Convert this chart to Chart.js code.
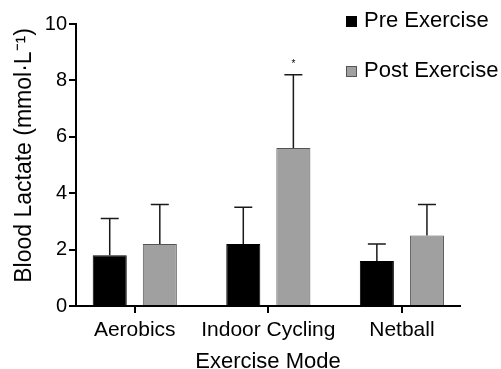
<!DOCTYPE html>
<html>
<head>
<meta charset="utf-8">
<script src="https://cdn.jsdelivr.net/npm/chart.js@4/dist/chart.umd.min.js"></script>
<style>
  html, body { margin: 0; padding: 0; background: #fff; }
  #wrap { width: 501px; height: 369px; }
</style>
</head>
<body>
<div id="wrap"><canvas id="lactateChart"></canvas></div>
<script>
// values
const categories = ['Aerobics', 'Indoor Cycling', 'Netball'];
const preMean = [1.8, 2.2, 1.6];
const preErr = [1.3, 1.3, 0.6];
const postMean = [2.2, 5.6, 2.5];
const postErr = [1.4, 2.6, 1.1];
const postSig = ['', '*', ''];
const yTicks = [0, 2, 4, 6, 8, 10];

const FONT = '"Liberation Sans", Arial, Helvetica, sans-serif';

// one-sided error bars + significance marks
const errorBars = {
    id: 'errorBars',
    afterDatasetsDraw(chart) {
        const ctx = chart.ctx;
        const yScale = chart.scales.y;
        chart.data.datasets.forEach((ds, di) => {
            const meta = chart.getDatasetMeta(di);
            meta.data.forEach((bar, i) => {
                const top = yScale.getPixelForValue(ds.means[i] + ds.errs[i]);
                ctx.save();
                ctx.strokeStyle = '#1a1a1a';
                ctx.lineWidth = 1.5;
                ctx.beginPath();
                ctx.moveTo(bar.x, bar.y);
                ctx.lineTo(bar.x, top);
                ctx.moveTo(bar.x - 9, top);
                ctx.lineTo(bar.x + 9, top);
                ctx.stroke();
                if (ds.sig && ds.sig[i]) {
                    ctx.fillStyle = '#000';
                    ctx.font = '10px ' + FONT;
                    ctx.textAlign = 'center';
                    ctx.textBaseline = 'middle';
                    ctx.fillText(ds.sig[i], bar.x, top - 11);
                }
                ctx.restore();
            });
        });
    }
};

// legend in the top-right corner
const cornerLegend = {
    id: 'cornerLegend',
    afterDraw(chart) {
        const ctx = chart.ctx;
        ctx.save();
        ctx.font = '22px ' + FONT;
        ctx.textBaseline = 'alphabetic';
        ctx.textAlign = 'left';
        chart.data.datasets.forEach((ds, i) => {
            const y = 16 + i * 50;
            ctx.fillStyle = ds.backgroundColor;
            ctx.fillRect(346, y, 11, 11);
            ctx.strokeStyle = ds.borderColor;
            ctx.lineWidth = 1;
            ctx.strokeRect(346.5, y + 0.5, 10, 10);
            ctx.fillStyle = '#000';
            ctx.fillText(ds.label, 364, y + 11);
        });
        ctx.restore();
    }
};

const ctx = document.getElementById('lactateChart').getContext('2d');
new Chart(ctx, {
    type: 'bar',
    data: {
        datasets: [{
            label: 'Pre Exercise',
            data: preMean.map((v, i) => ({ x: i, y: v })),
            means: preMean,
            errs: preErr,
            backgroundColor: '#000000',
            borderColor: '#000000',
            borderWidth: 1
        }, {
            label: 'Post Exercise',
            data: postMean.map((v, i) => ({ x: i, y: v })),
            means: postMean,
            errs: postErr,
            sig: postSig,
            backgroundColor: '#a0a0a0',
            borderColor: '#555555',
            borderWidth: 1
        }]
    },
    options: {
        responsive: true,
        maintainAspectRatio: false,
        animation: false,
        categoryPercentage: 0.75,
        barPercentage: 0.68,
        layout: { padding: { top: 24, right: 41, left: 0, bottom: 0 } },
        plugins: {
            legend: { display: false },
            tooltip: { enabled: false }
        },
        scales: {
            x: {
                type: 'linear',
                offset: false,
                min: -0.44,
                max: 2.435,
                afterBuildTicks: (scale) => { scale.ticks = categories.map((c, i) => ({ value: i })); },
                afterFit: (scale) => { scale.height = 63; },
                ticks: {
                    callback: (v) => categories[Math.round(v)],
                    color: '#000',
                    font: { family: FONT, size: 21 },
                    padding: 5,
                    maxRotation: 0,
                    autoSkip: false
                },
                grid: { offset: false, drawOnChartArea: false, drawTicks: true, tickLength: 7, color: '#000', lineWidth: 2 },
                border: { display: true, color: '#000', width: 2 },
                title: {
                    display: true,
                    text: 'Exercise Mode',
                    color: '#000',
                    font: { family: FONT, size: 22, lineHeight: 1 },
                    padding: { top: 0, bottom: -4 }
                }
            },
            y: {
                min: 0,
                max: 10,
                afterBuildTicks: (scale) => { scale.ticks = yTicks.map(v => ({ value: v })); },
                afterFit: (scale) => { scale.width = 76; },
                ticks: {
                    color: '#000',
                    font: { family: FONT, size: 20 },
                    padding: 2
                },
                grid: { drawOnChartArea: false, drawTicks: true, tickLength: 7, color: '#000', lineWidth: 2 },
                border: { display: true, color: '#000', width: 2 },
                title: {
                    display: true,
                    text: '   Blood Lactate (mmol\u00B7L\u207B\u00B9)',
                    color: '#000',
                    font: { family: FONT, size: 23 },
                    padding: { top: 11, bottom: 0 }
                }
            }
        }
    },
    plugins: [errorBars, cornerLegend]
});
</script>
</body>
</html>
